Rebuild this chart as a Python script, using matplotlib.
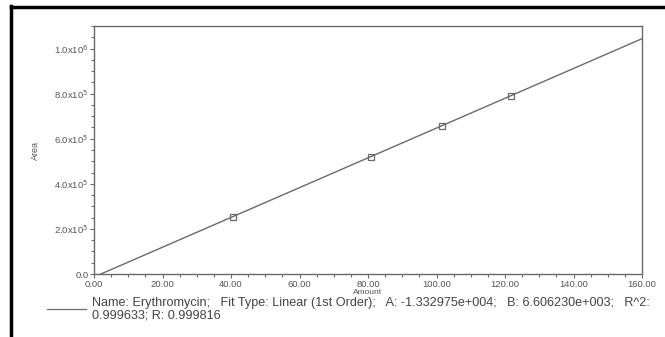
import matplotlib
matplotlib.use("Agg")
import matplotlib.pyplot as plt
from matplotlib.lines import Line2D
from matplotlib.ticker import MultipleLocator, FixedLocator
import numpy as np

plt.rcParams['font.family'] = ['Liberation Sans', 'DejaVu Sans']

# Data
amount = [40.5, 81.0, 101.5, 121.7]
area = [253000, 521000, 657000, 790000]
coef_A = -1.332975e+004
coef_B = 6.606230e+003
x_ticks = [0, 20, 40, 60, 80, 100, 120, 140, 160]
x_labels = ["0.00", "20.00", "40.00", "60.00", "80.00", "100.00", "120.00", "140.00", "160.00"]
y_ticks = [0, 2e5, 4e5, 6e5, 8e5, 1e6]
y_labels = ["0.0", r"2.0x10$^{5}$", r"4.0x10$^{5}$", r"6.0x10$^{5}$", r"8.0x10$^{5}$", r"1.0x10$^{6}$"]
legend_text = ("Name: Erythromycin;   Fit Type: Linear (1st Order);   A: -1.332975e+004;   "
               "B: 6.606230e+003;   R^2:\n0.999633; R: 0.999816")

W, H = 665, 337
fig = plt.figure(figsize=(W/100, H/100), dpi=100)
ax = fig.add_axes([94/W, 1-274/H, (642-94)/W, (274-26)/H])

gray = "#6a6a6a"
fit_x = np.array([0, 160])
ax.plot(fit_x, coef_A + coef_B*fit_x, color=gray, lw=1.0, zorder=2)
ax.plot(amount, area, linestyle="none", marker="s", markersize=5,
        markerfacecolor="none", markeredgecolor=gray, markeredgewidth=0.9, zorder=3)

ax.set_xlim(0, 160)
ax.set_ylim(0, 1.1e6)
ax.xaxis.set_major_locator(FixedLocator(x_ticks))
ax.set_xticklabels(x_labels)
ax.xaxis.set_minor_locator(MultipleLocator(5))
ax.yaxis.set_major_locator(FixedLocator(y_ticks))
ax.set_yticklabels(y_labels)
ax.yaxis.set_minor_locator(MultipleLocator(5e4))
ax.tick_params(which="major", direction="out", length=3, width=0.8, colors=gray,
               labelsize=6.8, labelcolor="#555555", pad=1)
ax.tick_params(which="minor", direction="out", length=2, width=0.8, colors=gray)
for s in ax.spines.values():
    s.set_color(gray)
    s.set_linewidth(1.0)
ax.set_xlabel("Amount", fontsize=6, color="#555555", labelpad=0)
ax.set_ylabel("Area", fontsize=6.5, color="#555555", labelpad=10)

# legend-like caption below
fig.add_artist(Line2D([47/W, 86/W], [1-309/H, 1-309/H], color=gray, lw=0.9))
fig.text(92/W, 1-297/H, legend_text, fontsize=9.1, color="#444444",
         va="top", ha="left", linespacing=1.0)

# outer black frame (scan border)
fig.add_artist(Line2D([11/W, 11/W], [0, 1-6/H], color="black", lw=2.5))
fig.add_artist(Line2D([11/W, 1], [1-7/H, 1-7/H], color="black", lw=2.5))

fig.savefig("out.png", dpi=100)
